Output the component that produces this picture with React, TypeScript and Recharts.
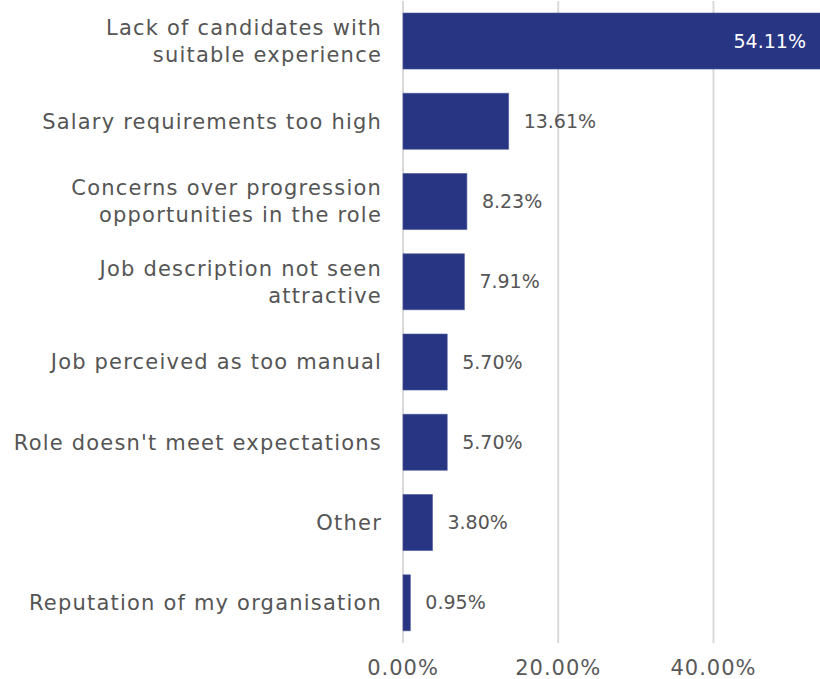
import React from "react";
import { BarChart, Bar, XAxis, YAxis, CartesianGrid, LabelList } from "recharts";

const categories = [
  "Lack of candidates with|suitable experience",
  "Salary requirements too high",
  "Concerns over progression|opportunities in the role",
  "Job description not seen|attractive",
  "Job perceived as too manual",
  "Role doesn't meet expectations",
  "Other",
  "Reputation of my organisation",
];

const values = [54.11, 13.61, 8.23, 7.91, 5.7, 5.7, 3.8, 0.95];

const xTicks = [0, 20, 40];

const data = categories.map((name, i) => ({ name, value: values[i] }));

const FONT = "'DejaVu Sans', sans-serif";

if (typeof document !== "undefined") {
  document.body.style.margin = "0";
  document.body.style.overflow = "hidden";
}

const CategoryTick = (props: any) => {
  const { x, y, payload } = props;
  const lines = String(payload.value).split("|");
  const lineHeight = 27;
  const start = -((lines.length - 1) * lineHeight) / 2;
  return (
    <text
      x={x}
      y={y}
      textAnchor="end"
      fill="#555555"
      fontSize={21}
      letterSpacing={1.2}
      fontFamily={FONT}
    >
      {lines.map((line, i) => (
        <tspan key={i} x={x} y={y + start + i * lineHeight} dy="0.35em">
          {line}
        </tspan>
      ))}
    </text>
  );
};

const ValueLabel = (props: any) => {
  const { x, y, width, height, value } = props;
  const inside = value > 30;
  return (
    <text
      x={inside ? x + width - 17 : x + width + 15}
      y={y + height / 2}
      dy="0.35em"
      textAnchor={inside ? "end" : "start"}
      fill={inside ? "#ffffff" : "#555555"}
      fontSize={19}
      fontFamily={FONT}
    >
      {value.toFixed(2)}%
    </text>
  );
};

export default function App() {
  return (
    <div style={{ width: 820, height: 679, background: "#fff", overflow: "hidden" }}>
      {/* right margin < 0 pushes the plot's edge line just past the canvas */}
      <BarChart
        width={820}
        height={679}
        data={data}
        layout="vertical"
        margin={{ top: 1, right: -3, bottom: 0, left: 0 }}
        barCategoryGap="15%"
      >
        <CartesianGrid
          horizontal={false}
          stroke="#d9d9d9"
          strokeWidth={2}
        />
        <XAxis
          type="number"
          domain={[0, 54.11]}
          ticks={xTicks}
          axisLine={false}
          tickLine={false}
          height={36}
          tickMargin={11}
          tickFormatter={(v: number) => `${v.toFixed(2)}%`}
          tick={{ fill: "#595959", fontSize: 21, fontFamily: FONT, letterSpacing: 1 }}
        />
        <YAxis
          type="category"
          dataKey="name"
          width={403}
          axisLine={false}
          tickLine={false}
          tickSize={0}
          tickMargin={21}
          interval={0}
          tick={<CategoryTick />}
        />
        <Bar
          dataKey="value"
          fill="#283583"
          stroke="#4a5599"
          strokeWidth={0.6}
          isAnimationActive={false}
        >
          <LabelList dataKey="value" content={<ValueLabel />} />
        </Bar>
      </BarChart>
    </div>
  );
}
